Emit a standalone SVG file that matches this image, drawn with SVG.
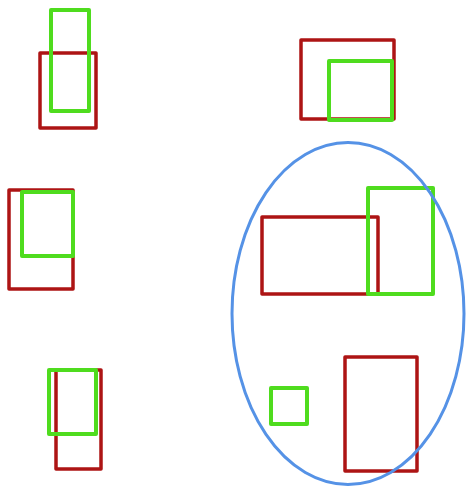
<svg xmlns="http://www.w3.org/2000/svg" width="468" height="488" viewBox="0 0 468 488">
<style>
.red{fill:none;stroke:#ad1414;stroke-width:3.5;stroke-linejoin:round}
.green{fill:none;stroke:#4fdc1e;stroke-width:4;stroke-linejoin:round}
.blue{fill:none;stroke:#5592e6;stroke-width:3}
</style>
<rect width="468" height="488" fill="#ffffff"/>
<g id="pair1">
<rect class="red" x="40" y="53" width="56" height="75"/>
<rect class="green" x="51" y="10" width="38" height="101"/>
</g>
<g id="pair2">
<rect class="red" x="301" y="40" width="93" height="79"/>
<rect class="green" x="329" y="61" width="63" height="59"/>
</g>
<g id="pair3">
<rect class="red" x="9" y="190" width="64" height="99"/>
<rect class="green" x="22" y="192" width="51" height="64"/>
</g>
<g id="pair4">
<rect class="red" x="56" y="370" width="45" height="99"/>
<rect class="green" x="49" y="370" width="47" height="64"/>
</g>
<g id="pair5">
<rect class="red" x="262" y="217" width="116" height="77"/>
<rect class="green" x="368" y="188" width="65" height="106"/>
</g>
<g id="pair6">
<rect class="green" x="271" y="388" width="36" height="36"/>
<rect class="red" x="345" y="357" width="72" height="114"/>
</g>
<g id="ellipse">
<ellipse class="blue" cx="348" cy="313.5" rx="116" ry="171"/>
</g>
</svg>
